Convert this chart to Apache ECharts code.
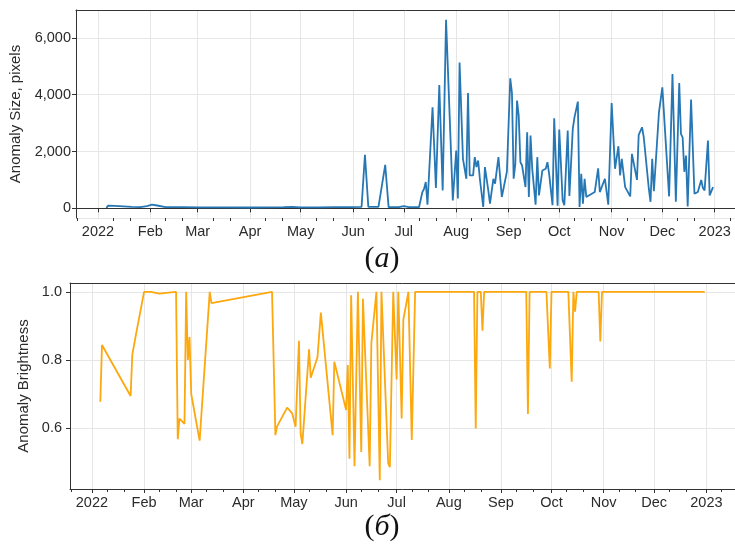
<!DOCTYPE html>
<html>
<head>
<meta charset="utf-8">
<script src="https://cdn.jsdelivr.net/npm/echarts@6/dist/echarts.min.js"></script>
<style>
  html, body { margin: 0; padding: 0; background: #fff; }
  #chart { width: 735px; height: 545px; }
</style>
</head>
<body>
<div id="chart"></div>
<script>
const monthNames = ['Jan', 'Feb', 'Mar', 'Apr', 'May', 'Jun', 'Jul', 'Aug', 'Sep', 'Oct', 'Nov', 'Dec'];

// (a) anomaly size, pixels
const sizeDates = [
  '2022-01-06', '2022-01-07', '2022-01-11', '2022-01-16', '2022-01-21', '2022-01-26', '2022-01-30',
  '2022-02-02', '2022-02-05', '2022-02-10', '2022-02-20',
  '2022-03-02', '2022-03-17',
  '2022-04-01', '2022-04-11', '2022-04-21', '2022-04-26',
  '2022-05-01', '2022-05-11', '2022-05-21', '2022-05-31',
  '2022-06-06', '2022-06-08', '2022-06-10', '2022-06-16', '2022-06-20', '2022-06-22', '2022-06-28',
  '2022-07-01', '2022-07-04', '2022-07-10', '2022-07-12', '2022-07-13', '2022-07-14', '2022-07-15',
  '2022-07-18', '2022-07-20', '2022-07-22', '2022-07-24', '2022-07-26', '2022-07-30', '2022-07-31',
  '2022-08-01', '2022-08-02', '2022-08-03', '2022-08-05', '2022-08-07', '2022-08-08', '2022-08-09',
  '2022-08-11', '2022-08-12', '2022-08-13', '2022-08-14', '2022-08-15', '2022-08-17', '2022-08-18',
  '2022-08-20', '2022-08-21', '2022-08-23', '2022-08-24', '2022-08-26', '2022-08-28', '2022-08-31',
  '2022-09-02', '2022-09-03', '2022-09-04', '2022-09-05', '2022-09-06', '2022-09-07', '2022-09-08',
  '2022-09-09', '2022-09-11', '2022-09-12', '2022-09-13', '2022-09-14', '2022-09-15', '2022-09-16',
  '2022-09-17', '2022-09-18', '2022-09-19', '2022-09-21', '2022-09-23', '2022-09-24', '2022-09-25',
  '2022-09-27', '2022-09-28', '2022-09-30',
  '2022-10-01', '2022-10-03', '2022-10-04', '2022-10-06', '2022-10-07', '2022-10-09', '2022-10-10',
  '2022-10-12', '2022-10-13', '2022-10-14', '2022-10-15', '2022-10-16', '2022-10-17', '2022-10-22',
  '2022-10-24', '2022-10-25', '2022-10-28', '2022-10-30',
  '2022-11-01', '2022-11-03', '2022-11-05', '2022-11-06', '2022-11-07', '2022-11-09', '2022-11-10',
  '2022-11-12', '2022-11-13', '2022-11-16', '2022-11-17', '2022-11-19', '2022-11-20', '2022-11-21',
  '2022-11-23', '2022-11-24', '2022-11-25', '2022-11-26', '2022-11-29',
  '2022-12-01', '2022-12-05', '2022-12-07', '2022-12-09', '2022-12-11', '2022-12-12', '2022-12-13',
  '2022-12-14', '2022-12-15', '2022-12-16', '2022-12-18', '2022-12-20', '2022-12-22', '2022-12-24',
  '2022-12-25', '2022-12-26', '2022-12-28', '2022-12-29', '2022-12-31'
];
const sizeValues = [
  10, 95, 85, 70, 55, 45, 80,
  130, 100, 45, 40,
  35, 35,
  30, 35, 40, 50,
  35, 35, 40, 45,
  50, 1885, 50, 50, 1530, 45, 40,
  80, 45, 40, 573, 690, 924, 128,
  3556, 714, 4339, 632, 6632, 281, 230,
  2035, 350, 5134, 1743, 1041, 4059, 1158,
  1158, 1801, 1450, 1683, 1041, 47, 1450,
  632, 163, 1041, 866, 1801, 398, 1286,
  4573, 4059, 1041, 1567, 3790, 3263, 1625,
  1508, 748, 2678, 398, 2560, 1391, 1450,
  128, 1801, 456, 1333, 1391, 1625, 1216,
  110, 3170, 88,
  2772, 281, 110, 2737, 433, 2795, 3200,
  3755, 47, 1216, 163, 1041, 398, 573,
  1410, 573, 1041, 128,
  3708, 1391, 2187, 1158, 1743, 748, 807,
  420, 1918, 1000, 2585, 2853, 2502, 2444,
  690, 230, 1743, 600, 3380,
  4257, 420, 4725, 230, 4410, 2620, 2500,
  1286, 1860, 70, 3825, 515, 573, 1000,
  714, 632, 2385, 456, 748
];

// (б) anomaly brightness
const brightDates = [
  '2022-01-06', '2022-01-07', '2022-01-24', '2022-01-25', '2022-01-27',
  '2022-02-01', '2022-02-05', '2022-02-10', '2022-02-20', '2022-02-21', '2022-02-22', '2022-02-25',
  '2022-02-26', '2022-02-27', '2022-02-28',
  '2022-03-01', '2022-03-06', '2022-03-12', '2022-03-13',
  '2022-04-18', '2022-04-20', '2022-04-21', '2022-04-27', '2022-04-30',
  '2022-05-02', '2022-05-04', '2022-05-05', '2022-05-06', '2022-05-10', '2022-05-11', '2022-05-15',
  '2022-05-17', '2022-05-24', '2022-05-25',
  '2022-06-01', '2022-06-02', '2022-06-03', '2022-06-04', '2022-06-06', '2022-06-08', '2022-06-10',
  '2022-06-11', '2022-06-15', '2022-06-16', '2022-06-19', '2022-06-21', '2022-06-22', '2022-06-26',
  '2022-06-27', '2022-06-29', '2022-06-30',
  '2022-07-01', '2022-07-02', '2022-07-04', '2022-07-05', '2022-07-08', '2022-07-10', '2022-07-12',
  '2022-08-16', '2022-08-17', '2022-08-18', '2022-08-20', '2022-08-21', '2022-08-22',
  '2022-09-16', '2022-09-17', '2022-09-18', '2022-09-28', '2022-09-30',
  '2022-10-01', '2022-10-11', '2022-10-13', '2022-10-14', '2022-10-15', '2022-10-16', '2022-10-29',
  '2022-10-30', '2022-10-31',
  '2022-12-31'
];
const brightValues = [
  0.677, 0.844, 0.694, 0.815, 0.87,
  1.0, 1.0, 0.995, 1.0, 0.567, 0.628, 0.612,
  1.0, 0.80, 0.867,
  0.70, 0.563, 1.0, 0.967,
  1.0, 0.579, 0.605, 0.66, 0.643,
  0.604, 0.856, 0.584, 0.553, 0.831, 0.748, 0.808,
  0.939, 0.579, 0.795,
  0.653, 0.785, 0.51, 0.99, 0.488, 1.0, 0.53,
  0.98, 0.488, 0.849, 1.0, 0.447, 1.0, 0.496,
  0.485, 1.0, 1.0,
  0.743, 1.0, 0.628, 0.918, 1.0, 0.565, 1.0,
  1.0, 0.599, 1.0, 1.0, 0.886, 1.0,
  1.0, 0.641, 1.0, 1.0, 0.775,
  1.0, 1.0, 0.736, 1.0, 0.942, 1.0, 1.0,
  0.854, 1.0,
  1.0
];

// minor ticks on the 10th and 20th of each month
const minorTicks = [];
for (let m = -1; m <= 12; m++) {
  [10, 20].forEach((d) => minorTicks.push(new Date(2022, m, d).getTime()));
}

const font = 'Liberation Sans, Arial, sans-serif';
const textColor = '#2b2b2b';
const gridColor = '#e6e6e6';
const axisColor = '#333';

const monthLabel = (v) => {
  const d = new Date(v);
  if (d.getDate() !== 1 || d.getHours() !== 0) return '';
  return d.getMonth() === 0 ? String(d.getFullYear()) : monthNames[d.getMonth()];
};

const mainX = (gridIndex, max) => ({
  type: 'time',
  gridIndex,
  min: '2021-12-19',
  max,
  splitNumber: 13,
  axisLine: { show: true, lineStyle: { color: axisColor, width: 1 } },
  axisTick: { show: true, length: 4, lineStyle: { color: axisColor } },
  axisLabel: {
    formatter: monthLabel,
    color: textColor,
    fontSize: 14.5,
    fontFamily: font,
    margin: 6,
    showMinLabel: false,
    showMaxLabel: false,
    hideOverlap: false
  },
  splitLine: { show: true, lineStyle: { color: gridColor, width: 1 } }
});

const minorX = (gridIndex, max) => ({
  type: 'time',
  gridIndex,
  min: '2021-12-19',
  max,
  position: 'bottom',
  axisLine: { show: false },
  axisTick: { show: true, length: 3, customValues: minorTicks, lineStyle: { color: axisColor } },
  axisLabel: { show: false },
  splitLine: { show: false }
});

// top frame line of each panel
const frameX = (gridIndex, max) => ({
  type: 'time',
  gridIndex,
  min: '2021-12-19',
  max,
  position: 'top',
  axisLine: { show: true, lineStyle: { color: axisColor, width: 1 } },
  axisTick: { show: false },
  axisLabel: { show: false },
  splitLine: { show: false }
});

const caption = (letter, y) => ({
  type: 'text',
  x: 382,
  y,
  style: {
    text: '{p|(}{i|' + letter + '}{p|)}',
    textAlign: 'center',
    textVerticalAlign: 'middle',
    fill: '#111',
    rich: {
      p: { fontFamily: 'Liberation Serif', fontSize: 30, fill: '#111' },
      i: { fontFamily: 'Liberation Serif', fontSize: 30, fontStyle: 'italic', fill: '#111' }
    }
  }
});

const chart = echarts.init(document.getElementById('chart'));

chart.setOption({
  animation: false,
  backgroundColor: '#fff',
  grid: [
    { left: 76, top: 10, right: -1, height: 208 },
    { left: 70, top: 283, right: -1, height: 206 }
  ],
  xAxis: [
    mainX(0, '2023-01-13'),
    minorX(0, '2023-01-13'),
    frameX(0, '2023-01-13'),
    mainX(1, '2023-01-18'),
    minorX(1, '2023-01-18'),
    frameX(1, '2023-01-18')
  ],
  yAxis: [
    {
      type: 'value',
      gridIndex: 0,
      min: -340,
      max: 6980,
      splitNumber: 4,
      name: 'Anomaly Size, pixels',
      nameLocation: 'middle',
      nameGap: 47,
      nameTextStyle: { fontSize: 15, color: textColor, fontFamily: font },
      axisLine: { show: true, lineStyle: { color: axisColor, width: 1 } },
      axisTick: { show: true, length: 4, lineStyle: { color: axisColor } },
      axisLabel: {
        formatter: (v) => v.toLocaleString('en-US'),
        color: textColor,
        fontSize: 14.5,
        fontFamily: font,
        margin: 5,
        showMinLabel: false,
        showMaxLabel: false
      },
      splitLine: { show: true, lineStyle: { color: gridColor, width: 1 } }
    },
    {
      type: 'value',
      gridIndex: 1,
      min: 0.421,
      max: 1.026,
      splitNumber: 3,
      name: 'Anomaly Brightness',
      nameLocation: 'middle',
      nameGap: 28,
      nameTextStyle: { fontSize: 15, color: textColor, fontFamily: font },
      axisLine: { show: true, lineStyle: { color: axisColor, width: 1 } },
      axisTick: { show: true, length: 4, lineStyle: { color: axisColor } },
      axisLabel: {
        formatter: (v) => v.toFixed(1),
        color: textColor,
        fontSize: 14.5,
        fontFamily: font,
        margin: 8,
        showMinLabel: false,
        showMaxLabel: false
      },
      splitLine: { show: true, lineStyle: { color: gridColor, width: 1 } }
    }
  ],
  series: [
    {
      name: 'Anomaly Size',
      type: 'line',
      xAxisIndex: 0,
      yAxisIndex: 0,
      showSymbol: false,
      data: sizeDates.map((d, i) => [d, sizeValues[i]]),
      lineStyle: { color: '#2677b4', width: 1.8 },
      itemStyle: { color: '#2677b4' }
    },
    {
      name: 'Anomaly Brightness',
      type: 'line',
      xAxisIndex: 3,
      yAxisIndex: 1,
      showSymbol: false,
      data: brightDates.map((d, i) => [d, brightValues[i]]),
      lineStyle: { color: '#fca80f', width: 1.8 },
      itemStyle: { color: '#fca80f' }
    }
  ],
  graphic: [caption('а', 259), caption('б', 527)]
});
</script>
</body>
</html>
